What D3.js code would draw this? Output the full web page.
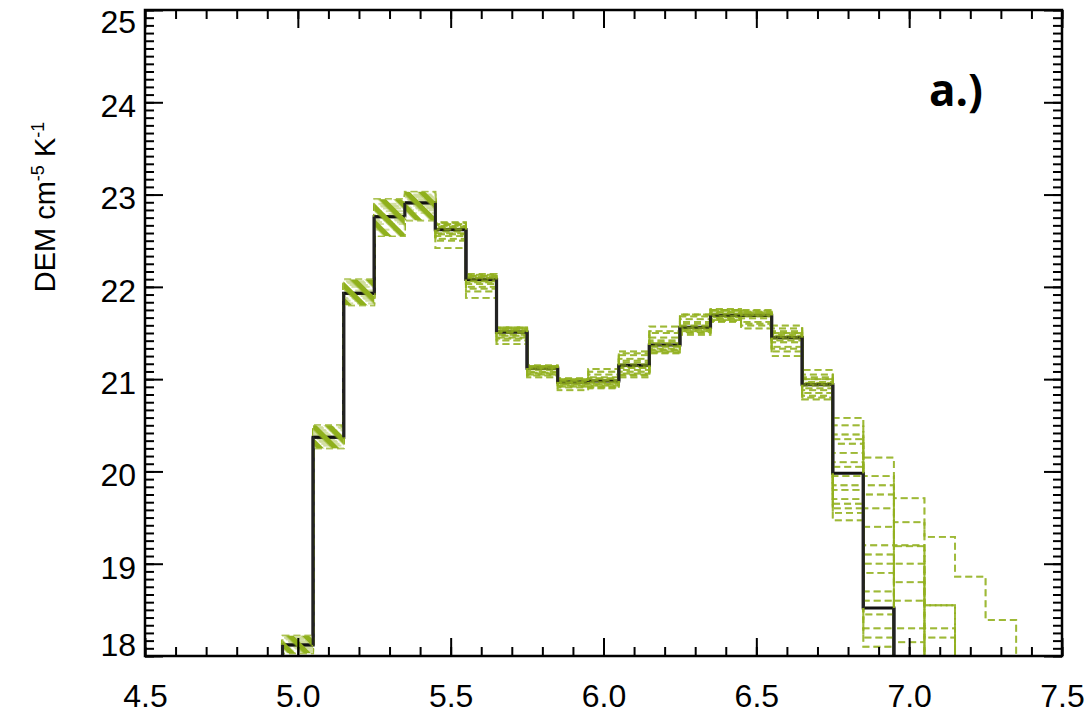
<!DOCTYPE html>
<html>
<head>
<meta charset="utf-8">
<script src="https://cdn.jsdelivr.net/npm/d3@7"></script>
<style>
  html, body { margin: 0; padding: 0; background: #fff; }
  svg { display: block; }
</style>
</head>
<body>
<svg id="chart" width="1085" height="717"></svg>
<script>
// ---- data ----
// bin centres (log T), bins are 0.1 wide
const binCenters = [4.9,5.0,5.1,5.2,5.3,5.4,5.5,5.6,5.7,5.8,5.9,6.0,6.1,6.2,6.3,6.4,6.5,6.6,6.7,6.8,6.9,7.0,7.1,7.2,7.3,7.4];
// best-fit DEM (black); 17 = below the plotted range
const demBest = [17,18.12,20.37,21.93,22.76,22.91,22.62,22.08,21.51,21.12,20.97,20.98,21.15,21.37,21.56,21.69,21.69,21.45,20.94,19.98,18.52,17,17,17,17,17];
// Monte-Carlo realisations (green dashed)
const mcRuns = [
  [17,18.15,20.40,21.95,22.78,22.93,22.65,22.10,21.53,21.13,20.98,20.99,21.16,21.39,21.58,21.71,21.71,21.48,20.97,20.05,18.70,17,17,17,17,17],
  [17,18.20,20.45,22.05,22.90,23.00,22.70,22.13,21.55,21.14,21.00,21.02,21.22,21.45,21.65,21.75,21.74,21.55,21.05,20.35,19.20,18.30,17,17,17,17],
  [17,18.05,20.30,21.85,22.70,22.85,22.58,22.05,21.48,21.08,20.95,20.95,21.10,21.33,21.54,21.67,21.68,21.42,20.90,19.85,18.30,17,17,17,17,17],
  [17,18.22,20.50,22.08,22.95,23.03,22.68,22.12,21.56,21.15,21.01,21.05,21.26,21.50,21.68,21.76,21.72,21.50,21.00,20.50,20.15,19.71,19.29,18.86,18.39,17],
  [17,18.10,20.35,21.90,22.72,22.88,22.60,22.06,21.50,21.10,20.96,20.97,21.13,21.35,21.55,21.68,21.70,21.44,20.93,19.95,18.90,17,17,17,17,17],
  [17,18.18,20.42,22.00,22.82,22.95,22.63,22.09,21.52,21.12,20.97,21.00,21.18,21.40,21.60,21.72,21.70,21.46,20.95,20.20,19.60,19.20,18.55,17,17,17],
  [17,18.03,20.25,21.80,22.55,22.72,22.42,21.88,21.38,21.02,20.88,20.90,21.02,21.28,21.48,21.62,21.55,21.25,20.80,19.55,18.20,17,17,17,17,17],
  [17,18.12,20.38,21.92,22.75,22.90,22.55,21.98,21.45,21.05,20.92,20.93,21.06,21.30,21.52,21.64,21.62,21.35,20.85,19.70,19.00,18.60,17,17,17,17],
  [17,18.08,20.33,21.88,22.62,22.80,22.50,21.95,21.42,21.04,20.91,20.92,21.05,21.32,21.50,21.65,21.60,21.30,20.78,19.47,18.10,17,17,17,17,17],
  [17,18.20,20.48,22.02,22.85,22.98,22.66,22.11,21.54,21.13,20.99,21.08,21.28,21.52,21.70,21.74,21.73,21.52,21.02,20.40,19.85,19.19,18.55,17,17,17],
  [17,18.14,20.36,21.96,22.77,22.92,22.64,22.09,21.52,21.11,20.97,20.98,21.14,21.37,21.57,21.70,21.69,21.45,20.94,20.10,19.40,18.80,18.20,17,17,17],
  [17,18.16,20.44,22.04,22.88,22.97,22.67,22.12,21.55,21.14,21.00,21.01,21.20,21.42,21.62,21.73,21.72,21.50,21.00,20.30,19.95,19.45,17,17,17,17],
  [17,18.06,20.28,21.82,22.68,22.83,22.57,22.03,21.47,21.07,20.94,20.94,21.08,21.31,21.53,21.66,21.66,21.40,20.88,19.80,18.60,18.15,17,17,17,17],
  [17,18.11,20.39,21.94,22.79,22.94,22.62,22.07,21.51,21.12,20.96,20.96,21.12,21.36,21.56,21.69,21.69,21.47,20.96,19.60,19.10,17,17,17,17,17],
  [17,18.19,20.47,22.06,22.87,22.99,22.69,22.14,21.56,21.14,20.99,21.11,21.30,21.57,21.70,21.75,21.75,21.58,21.10,20.58,19.75,19.00,18.30,17,17,17],
  [17,18.09,20.32,21.87,22.73,22.86,22.52,22.00,21.44,21.06,20.93,20.91,21.04,21.29,21.51,21.63,21.58,21.33,20.82,19.65,18.45,17,17,17,17,17]
];
// bins where the realisations are drawn as a hatched band
const hatchedBins = [5.0,5.1,5.2,5.3,5.4];
const xTickValues = [4.5,5.0,5.5,6.0,6.5,7.0,7.5];
const yTickValues = [18,19,20,21,22,23,24,25];
const panelLabel = "a.)";

// ---- layout ----
const svg = d3.select("#chart");
const L = 145, R = 1062, T = 10, B = 656;
const x = d3.scaleLinear().domain([4.5, 7.5]).range([L, R]);
const y = d3.scaleLinear().domain([18, 25]).range([B, T]);
const binW = 0.1;
const green = "#93b120";

const defs = svg.append("defs");
defs.append("clipPath").attr("id", "plotclip")
  .append("rect").attr("x", L).attr("y", T).attr("width", R - L).attr("height", B - T);
const pat = defs.append("pattern").attr("id", "hatch")
  .attr("patternUnits", "userSpaceOnUse").attr("width", 11).attr("height", 11)
  .attr("patternTransform", "rotate(45)");
pat.append("rect").attr("x", 0).attr("y", 0).attr("width", 11).attr("height", 5.5).attr("fill", "#8fb01c");

function stepPoints(vals) {
  const pts = [];
  vals.forEach((v, i) => {
    const c = binCenters[i];
    pts.push([c - binW / 2, v], [c + binW / 2, v]);
  });
  return pts;
}
const stepLine = d3.line().x(d => x(d[0])).y(d => y(d[1]));

const plot = svg.append("g").attr("clip-path", "url(#plotclip)");

// MC realisations
mcRuns.forEach(run => {
  plot.append("path").attr("d", stepLine(stepPoints(run)))
    .attr("fill", "none").attr("stroke", green).attr("stroke-width", 1.8)
    .attr("stroke-opacity", 0.75).attr("stroke-dasharray", "7,4");
});

// best fit (black)
plot.append("path").attr("d", stepLine(stepPoints(demBest)))
  .attr("fill", "none").attr("stroke", "#111").attr("stroke-width", 3.2);

// MC realisations drawn over the best fit
mcRuns.forEach(run => {
  plot.append("path").attr("d", stepLine(stepPoints(run)))
    .attr("fill", "none").attr("stroke", green).attr("stroke-width", 2)
    .attr("stroke-opacity", 0.6).attr("stroke-dasharray", "7,4");
});

// hatched band for the low-temperature bins
hatchedBins.forEach(c => {
  const i = binCenters.findIndex(b => Math.abs(b - c) < 1e-6);
  const vals = mcRuns.map(r => r[i]);
  const lo = d3.min(vals), hi = d3.max(vals);
  plot.append("rect")
    .attr("x", x(c - binW / 2)).attr("width", x(c + binW / 2) - x(c - binW / 2))
    .attr("y", y(hi)).attr("height", y(lo) - y(hi))
    .attr("fill", "#fff").attr("fill-opacity", 0.55);
  plot.append("line")
    .attr("x1", x(c - binW / 2)).attr("x2", x(c + binW / 2))
    .attr("y1", y(demBest[i])).attr("y2", y(demBest[i]))
    .attr("stroke", "#111").attr("stroke-width", 3.2);
  plot.append("rect")
    .attr("x", x(c - binW / 2)).attr("width", x(c + binW / 2) - x(c - binW / 2))
    .attr("y", y(hi)).attr("height", y(lo) - y(hi))
    .attr("fill", "url(#hatch)");
});

// vertical risers of the best fit stay visible on top
plot.append("g").selectAll("line")
  .data(demBest.slice(1).map((v, k) => ({ edge: binCenters[k] + binW / 2, a: demBest[k], b: v })))
  .join("line")
  .attr("x1", d => x(d.edge)).attr("x2", d => x(d.edge))
  .attr("y1", d => y(d.a)).attr("y2", d => y(d.b))
  .attr("stroke", "#222").attr("stroke-width", 3);

// ---- axes ----
const font = "'Liberation Sans', Arial, Helvetica, sans-serif";
const axisStyle = g => {
  g.select(".domain").remove();
  g.selectAll("line").attr("stroke", "#000").attr("stroke-width", 2);
  g.selectAll("text").attr("fill", "#000").style("font-family", font).style("font-size", "32px");
};
const xMinor = d3.range(45, 76, 1).map(v => v / 10);
const yMinor = d3.range(0, 7 * 12 + 1).map(k => 18 + k / 12);

svg.append("g").attr("transform", `translate(0,${B})`)
  .call(d3.axisBottom(x).tickValues(xTickValues).tickFormat(d3.format(".1f")).tickSize(-18).tickPadding(28))
  .call(axisStyle);
svg.append("g").attr("transform", `translate(0,${B})`)
  .call(d3.axisBottom(x).tickValues(xMinor).tickFormat("").tickSize(-9)).call(axisStyle);
svg.append("g").attr("transform", `translate(0,${T})`)
  .call(d3.axisTop(x).tickValues(xTickValues).tickFormat("").tickSize(-18)).call(axisStyle);
svg.append("g").attr("transform", `translate(0,${T})`)
  .call(d3.axisTop(x).tickValues(xMinor).tickFormat("").tickSize(-9)).call(axisStyle);

const yAx = svg.append("g").attr("transform", `translate(${L},0)`)
  .call(d3.axisLeft(y).tickValues(yTickValues).tickFormat(d3.format("d")).tickSize(-18).tickPadding(9))
  .call(axisStyle);
// IDL-style: labels sit a little below their tick, end labels pulled inside the frame
yAx.selectAll(".tick text").attr("dy", d => d === 25 ? "0.7em" : d === 18 ? "-0.02em" : "0.45em");
svg.append("g").attr("transform", `translate(${L},0)`)
  .call(d3.axisLeft(y).tickValues(yMinor).tickFormat("").tickSize(-9)).call(axisStyle);
svg.append("g").attr("transform", `translate(${R},0)`)
  .call(d3.axisRight(y).tickValues(yTickValues).tickFormat("").tickSize(-18)).call(axisStyle);
svg.append("g").attr("transform", `translate(${R},0)`)
  .call(d3.axisRight(y).tickValues(yMinor).tickFormat("").tickSize(-9)).call(axisStyle);

// frame
svg.append("rect").attr("x", L).attr("y", T).attr("width", R - L).attr("height", B - T)
  .attr("fill", "none").attr("stroke", "#000").attr("stroke-width", 2.5);

// y label
const yl = svg.append("text")
  .attr("transform", "translate(55,207) rotate(-90)")
  .attr("text-anchor", "middle")
  .style("font-family", font).style("font-size", "29px").attr("fill", "#000");
yl.append("tspan").text("DEM cm");
yl.append("tspan").text("-5").attr("dy", "-11").style("font-size", "18px");
yl.append("tspan").text(" K").attr("dy", "11");
yl.append("tspan").text("-1").attr("dy", "-11").style("font-size", "18px");

// panel label
svg.append("text").attr("x", 929).attr("y", 106)
  .style("font-family", "'Open Sans', sans-serif").style("font-weight", "bold")
  .style("font-size", "44px").attr("fill", "#000").text(panelLabel);
</script>
</body>
</html>
